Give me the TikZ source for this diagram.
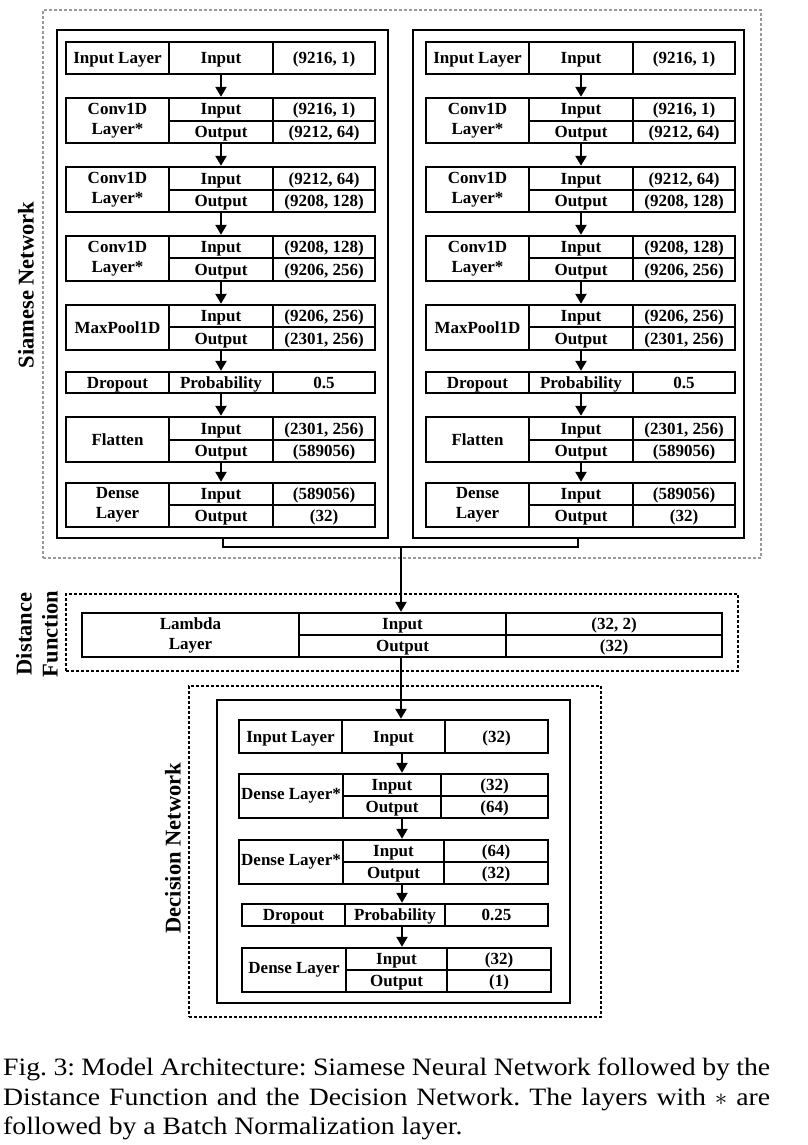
\documentclass[tikz,border=0pt]{standalone}
\usepackage{fontspec}
\setmainfont{Liberation Serif}
\newfontfamily\capfont[FakeStretch=1.11]{Liberation Serif}
\usetikzlibrary{arrows.meta,fit}

% column positions of the table being drawn
\newcommand\setcols[4]{\def\colA{#1}\def\colB{#2}\def\colC{#3}\def\colD{#4}}

% one-line layer table: name, top, bottom, three cell texts
\newcommand\singlerow[6]{%
  \node[cellbox, fit={(\colA,#2) (\colB,#3)}] (#1a) {};
  \node[cellbox, fit={(\colB,#2) (\colC,#3)}] (#1b) {};
  \node[cellbox, fit={(\colC,#2) (\colD,#3)}] (#1c) {};
  \node[tablebox, fit={(\colA,#2) (\colD,#3)}] (#1) {};
  \node[celltext] (#1at) at (#1a.center) {#4};
  \node[celltext] (#1bt) at (#1b.center) {#5};
  \node[celltext] (#1ct) at (#1c.center) {#6};
}

% two-line layer table: name, top, middle, bottom, layer name, input shape, output shape
\newcommand\doublerow[7]{%
  \node[cellbox, fit={(\colA,#2) (\colB,#4)}] (#1a) {};
  \node[cellbox, fit={(\colB,#2) (\colC,#3)}] (#1b) {};
  \node[cellbox, fit={(\colB,#3) (\colC,#4)}] (#1c) {};
  \node[cellbox, fit={(\colC,#2) (\colD,#3)}] (#1d) {};
  \node[cellbox, fit={(\colC,#3) (\colD,#4)}] (#1e) {};
  \node[tablebox, fit={(\colA,#2) (\colD,#4)}] (#1) {};
  \node[nametext] (#1at) at (#1a.center) {#5};
  \node[celltext] (#1bt) at (#1b.center) {Input};
  \node[celltext] (#1ct) at (#1c.center) {Output};
  \node[celltext] (#1dt) at (#1d.center) {#6};
  \node[celltext] (#1et) at (#1e.center) {#7};
}

\tikzset{
  cellbox/.style={draw, line width=2.4pt, inner sep=0pt},
  tablebox/.style={draw, line width=2.4pt, inner sep=0pt},
  celltext/.style={inner sep=0pt, text height=12pt, text depth=1pt,
    font=\bfseries\fontsize{17}{20}\selectfont},
  nametext/.style={inner sep=0pt, align=center,
    font=\bfseries\fontsize{17}{20}\selectfont},
  outerbox/.style={draw, line width=2.2pt, inner sep=0pt},
  groupbox/.style={draw, line width=1.2pt, dash pattern=on 3pt off 2pt, inner sep=0pt},
  flow/.style={line width=2.2pt, -{Triangle[width=11pt,length=10pt]}},
  joinline/.style={line width=2.2pt},
  grouplabel/.style={rotate=90, align=center,
    font=\bfseries\fontsize{22.5}{26}\selectfont},
}

\begin{document}
\begin{tikzpicture}[x=1pt, y=-1pt]
\fill[white] (0,0) rectangle (807,1145);
\path[use as bounding box] (0,0) rectangle (807,1145);

% ---------------- Siamese network ----------------
\node[groupbox, draw=gray!80, fit={(43,10) (761,558)}] (siamgroup) {};
\node[outerbox, fit={(57,30) (388,538)}] (SL) {};
\node[outerbox, fit={(413,30) (744,538)}] (SR) {};
\node[grouplabel] (siamlabel) at (26,285) {Siamese Network};

\setcols{66}{169}{273}{375}
\singlerow{LA}{42}{74}{Input Layer}{Input}{(9216, 1)}
\doublerow{LB}{98}{121}{143}{Conv1D\\Layer*}{(9216, 1)}{(9212, 64)}
\doublerow{LC}{167}{190}{212}{Conv1D\\Layer*}{(9212, 64)}{(9208, 128)}
\doublerow{LD}{236}{258}{281}{Conv1D\\Layer*}{(9208, 128)}{(9206, 256)}
\doublerow{LE}{305}{327}{350}{MaxPool1D}{(9206, 256)}{(2301, 256)}
\singlerow{LF}{372}{393}{Dropout}{Probability}{0.5}
\doublerow{LG}{417}{440}{462}{Flatten}{(2301, 256)}{(589056)}
\doublerow{LH}{483}{505}{527}{Dense\\Layer}{(589056)}{(32)}

\setcols{426}{529}{633}{735}
\singlerow{RA}{42}{74}{Input Layer}{Input}{(9216, 1)}
\doublerow{RB}{98}{121}{143}{Conv1D\\Layer*}{(9216, 1)}{(9212, 64)}
\doublerow{RC}{167}{190}{212}{Conv1D\\Layer*}{(9212, 64)}{(9208, 128)}
\doublerow{RD}{236}{258}{281}{Conv1D\\Layer*}{(9208, 128)}{(9206, 256)}
\doublerow{RE}{305}{327}{350}{MaxPool1D}{(9206, 256)}{(2301, 256)}
\singlerow{RF}{372}{393}{Dropout}{Probability}{0.5}
\doublerow{RG}{417}{440}{462}{Flatten}{(2301, 256)}{(589056)}
\doublerow{RH}{483}{505}{527}{Dense\\Layer}{(589056)}{(32)}

\coordinate (lx) at (221,0);
\coordinate (rx) at (581,0);
\foreach \a/\b in {A/B, B/C, C/D, D/E, E/F, F/G, G/H}{
  \draw[flow] (L\a.south -| lx) -- (L\b.north -| lx);
  \draw[flow] (R\a.south -| rx) -- (R\b.north -| rx);
}

% the two branches merge into the distance function
\coordinate (jl) at (223,547);
\coordinate (jr) at (578,547);
\coordinate (jm) at (401,547);
\draw[joinline] (SL.south -| jl) -- (jl) -- (jr) -- (SR.south -| jr);

% ---------------- Distance function ----------------
\node[groupbox, fit={(66,594) (738,671)}] (distgroup) {};
\node[grouplabel] (distlabel) at (37,634) {Distance\\Function};
\setcols{82}{299}{506}{722}
\doublerow{MA}{613}{635}{657}{Lambda\\Layer}{(32, 2)}{(32)}
\draw[flow] (jm) -- (MA.north -| jm);

% ---------------- Decision network ----------------
\node[groupbox, fit={(189,686) (601,1017)}] (decgroup) {};
\node[outerbox, fit={(217,700) (570,1003)}] (DN) {};
\node[grouplabel] (declabel) at (173,848) {Decision Network};

\setcols{239}{342}{445}{548}
\singlerow{DA}{720}{753}{Input Layer}{Input}{(32)}
\setcols{239}{343}{441}{548}
\doublerow{DB}{774}{796}{818}{Dense Layer*}{(32)}{(64)}
\setcols{239}{343}{444}{548}
\doublerow{DC}{840}{862}{884}{Dense Layer*}{(64)}{(32)}
\setcols{242}{345}{445}{548}
\singlerow{DD}{904}{926}{Dropout}{Probability}{0.25}
\setcols{242}{346}{447}{551}
\doublerow{DE}{948}{970}{992}{Dense Layer}{(32)}{(1)}

\coordinate (mx) at (401,0);
\draw[flow] (MA.south -| mx) -- (DA.north -| mx);
\coordinate (dx) at (402,0);
\foreach \a/\b in {A/B, B/C, C/D, D/E}{
  \draw[flow] (D\a.south -| dx) -- (D\b.north -| dx);
}

% ---------------- Caption ----------------
\node[anchor=north west, inner sep=0pt, text width=767pt, align=justify,
      font=\capfont\fontsize{25}{29.5}\selectfont\frenchspacing] (caption) at (3,1058)
  {Fig. 3: Model Architecture: Siamese Neural Network followed by the\linebreak
   Distance Function and the Decision Network. The layers with $\ast$ are\linebreak
   followed by a Batch Normalization layer.};
\end{tikzpicture}
\end{document}
